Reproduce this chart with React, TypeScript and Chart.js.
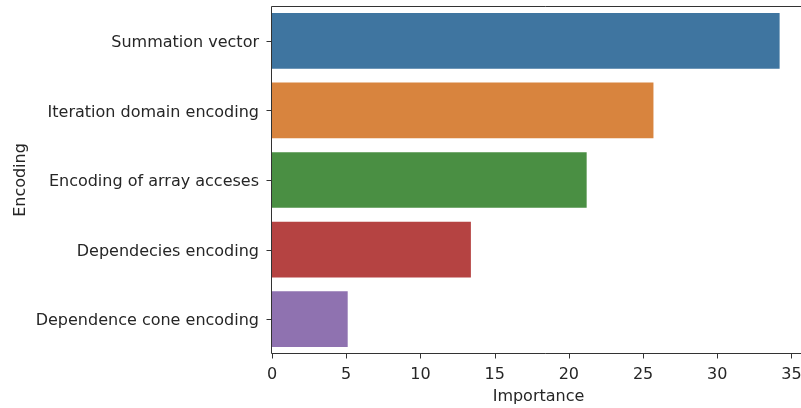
import React, { useEffect, useRef } from "react";
import { Chart, registerables } from "chart.js";

Chart.register(...registerables);

const categories = [
  "Summation vector",
  "Iteration domain encoding",
  "Encoding of array acceses",
  "Dependecies encoding",
  "Dependence cone encoding",
];
const importance = [34.2, 25.7, 21.2, 13.4, 5.1];
const barColors = ["#3f75a0", "#d8843e", "#4a8f43", "#b54342", "#8f72b0"];
const xTickValues = [0, 5, 10, 15, 20, 25, 30, 35];
const xMin = 0;
const xMax = 35.91;
const xTitle = "Importance";
const yTitle = "Encoding";

const CANVAS_W = 820;
const CANVAS_H = 408;
const AREA_LEFT = 272;
const AREA_TOP = 6;
const AREA_BOTTOM = 354;
const AREA_RIGHT = 805;
const TEXT_COLOR = "#262626";
const SPINE_COLOR = "#333333";
const FONT = "DejaVu Sans";
const FONT_SIZE = 16;
const TICK_LEN = 5;

const spinesPlugin = {
  id: "spines",
  afterDatasetsDraw(chart: any) {
    const { ctx, chartArea, scales } = chart;
    ctx.save();
    ctx.strokeStyle = SPINE_COLOR;
    ctx.lineWidth = 1;
    const left = Math.round(chartArea.left) - 0.5;
    const top = Math.round(chartArea.top) + 0.5;
    const bottom = Math.round(chartArea.bottom) - 0.5;
    ctx.beginPath();
    ctx.moveTo(left, top);
    ctx.lineTo(chart.width, top);
    ctx.moveTo(left, top);
    ctx.lineTo(left, bottom);
    ctx.moveTo(left, bottom);
    ctx.lineTo(chart.width, bottom);
    // x tick marks
    xTickValues.forEach((v) => {
      const px = Math.round(scales.x.getPixelForValue(v)) + 0.5;
      ctx.moveTo(px, bottom);
      ctx.lineTo(px, bottom + TICK_LEN);
    });
    // y tick marks
    categories.forEach((_, i) => {
      const py = Math.round(scales.y.getPixelForValue(i)) + 0.5;
      ctx.moveTo(left, py);
      ctx.lineTo(left - TICK_LEN, py);
    });
    ctx.stroke();
    ctx.restore();
  },
};

export default function App() {
  const ref = useRef<HTMLCanvasElement>(null);

  useEffect(() => {
    if (!ref.current) return;
    const chart = new Chart(ref.current, {
      type: "bar",
      data: {
        labels: categories,
        datasets: [
          {
            data: importance,
            backgroundColor: barColors,
            borderWidth: 0,
            barPercentage: 0.8,
            categoryPercentage: 1,
          },
        ],
      },
      options: {
        indexAxis: "y",
        animation: false,
        responsive: false,
        devicePixelRatio: 1,
        layout: {
          padding: {
            top: AREA_TOP,
            right: CANVAS_W - AREA_RIGHT,
            left: 0,
            bottom: 0,
          },
        },
        plugins: {
          legend: { display: false },
          tooltip: { enabled: false },
        },
        scales: {
          x: {
            type: "linear",
            min: xMin,
            max: xMax,
            afterBuildTicks(scale: any) {
              scale.ticks = xTickValues.map((v) => ({ value: v }));
            },
            afterFit(scale: any) {
              scale.height = CANVAS_H - AREA_BOTTOM;
              scale.paddingLeft = 0;
              scale.paddingRight = 0;
            },
            grid: {
              display: false,
              drawTicks: true,
              tickLength: TICK_LEN,
            },
            border: { display: false },
            ticks: {
              color: TEXT_COLOR,
              font: { family: FONT, size: FONT_SIZE },
              padding: 6,
              maxRotation: 0,
              autoSkip: false,
            },
            title: {
              display: true,
              text: xTitle,
              color: TEXT_COLOR,
              font: { family: FONT, size: FONT_SIZE },
              padding: { top: 2, bottom: 2 },
            },
          },
          y: {
            type: "category",
            offset: true,
            afterFit(scale: any) {
              scale.width = AREA_LEFT;
              scale.paddingTop = 0;
              scale.paddingBottom = 0;
            },
            grid: {
              display: false,
              offset: false,
              drawTicks: true,
              tickLength: TICK_LEN,
            },
            border: { display: false },
            ticks: {
              color: TEXT_COLOR,
              font: { family: FONT, size: FONT_SIZE },
              padding: 8,
              labelOffset: 2,
              autoSkip: false,
            },
            title: {
              display: true,
              text: yTitle,
              color: TEXT_COLOR,
              font: { family: FONT, size: FONT_SIZE },
              padding: { top: 11, bottom: 11 },
            },
          },
        },
      },
      plugins: [spinesPlugin],
    });
    return () => chart.destroy();
  }, []);

  return (
    <div
      style={{
        position: "fixed",
        left: 0,
        top: 0,
        width: 801,
        height: 408,
        overflow: "hidden",
        background: "#ffffff",
      }}
    >
      <canvas
        ref={ref}
        width={CANVAS_W}
        height={CANVAS_H}
        style={{ display: "block", width: CANVAS_W, height: CANVAS_H }}
      />
    </div>
  );
}
